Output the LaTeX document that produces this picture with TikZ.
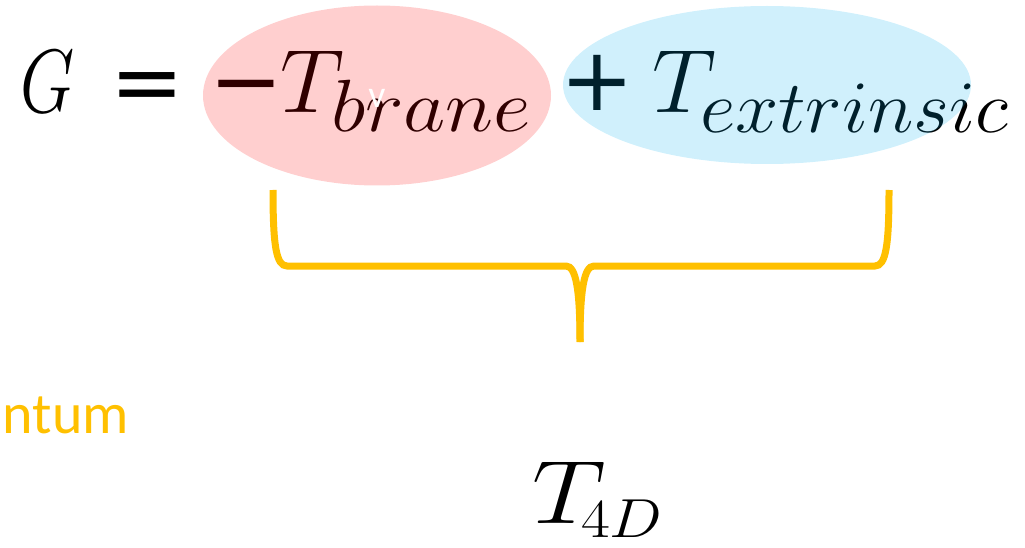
\RequirePackage{fix-cm}
\documentclass[tikz,border=0pt]{standalone}
\usepackage{fontspec}
\usetikzlibrary{shapes.geometric}
\newfontfamily\calibri{Carlito}
\newfontfamily\opsfont{DejaVu Sans}
\definecolor{gold}{HTML}{FFC000}
\definecolor{pinkred}{HTML}{FF0000}
\definecolor{skyblue}{HTML}{00B0F0}
\begin{document}
\begin{tikzpicture}[x=1pt,y=-1pt,
  glyph/.style={inner sep=0pt, outer sep=0pt},
  bigmath/.style={glyph, font=\fontsize{90}{90}\selectfont, anchor=base west},
  submath/.style={glyph, font=\fontsize{74}{74}\selectfont, anchor=base west},
  op/.style={glyph, font=\opsfont\fontsize{88}{88}\selectfont, anchor=north},
  blob/.style={ellipse, inner sep=0pt, draw=none},
  bracepath/.style={draw=gold, line width=7pt, line cap=butt}]
\useasboundingbox (0,0) rectangle (1025,548);
% equation
\node[bigmath] (G) at (20,113) {\scalebox{0.78}[1]{$G$}};
\node[op] (eq) at (147.5,73) {=};
\node[op] (minus) at (246,80) {−};
\node[bigmath] (T1) at (280,113) {$T$};
\node[submath] (brane) at (331,132) {\scalebox{1.11}[1]{$brane$}};
\node[op] (plus) at (597.5,55) {+};
\node[bigmath] (T2) at (652,113) {$T$};
\node[submath] (extr) at (700,133) {\scalebox{1.05}[1]{$extrinsic$}};
% highlight ellipses (translucent, over the text)
\node[blob, minimum width=348pt, minimum height=180pt, fill=pinkred, fill opacity=0.19] (pinkel) at (377,95.5) {};
\node[blob, minimum width=408pt, minimum height=158pt, fill=skyblue, fill opacity=0.184] (blueel) at (767,85) {};
\node[glyph, font=\calibri\fontsize{38}{38}\selectfont, text=white] (vmark) at (377,98) {v};
% brace
\coordinate (bl) at (273,190);
\coordinate (br) at (889,190);
\coordinate (tip) at (580,342);
\draw[bracepath] (bl) .. controls (273,245) and (276,266) .. (287,266) -- (566,266) .. controls (576,266) and (580,290) .. (tip);
\draw[bracepath] (tip) .. controls (580,290) and (584,266) .. (594,266) -- (875,266) .. controls (886,266) and (889,245) .. (br);
% result
\node[bigmath] (T3) at (532,523) {\scalebox{1.15}[1]{$T$}};
\node[glyph, font=\fontsize{55}{55}\selectfont, anchor=base west] (sub4D) at (581,537) {\scalebox{1.14}[1]{$4D$}};
% cut-off label
\node[glyph, font=\calibri\fontsize{58}{58}\selectfont, text=gold, anchor=base east] (ntum) at (129,433) {ntum};
\end{tikzpicture}
\end{document}
